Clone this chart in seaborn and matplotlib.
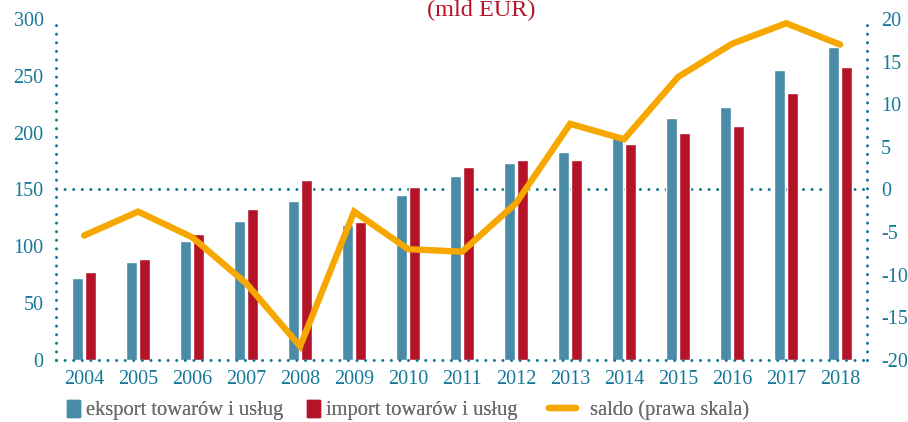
import pandas as pd
import matplotlib.pyplot as plt
import seaborn as sns

years = [str(y) for y in range(2004, 2019)]
eksport = [72, 86, 105, 122, 139.5, 118.5, 145.5, 162, 173.5, 183, 196, 213, 223, 255, 275]
imports = [77, 88.5, 110.5, 133, 158, 121, 152.5, 170, 175.5, 176, 190, 200, 206, 235, 258]
saldo = [-5.4, -2.6, -5.6, -11.0, -18.4, -2.6, -7.0, -7.3, -1.6, 7.7, 5.9, 13.2, 17.1, 19.5, 17.0]
series_names = ["eksport towarów i usług", "import towarów i usług", "saldo (prawa skala)"]

teal = "#17799a"
blue = "#4a8ca8"
red = "#b51428"
orange = "#f7a800"
grey = "#6b6b6b"

sns.set_style("white")
plt.rcParams["font.family"] = ["Liberation Serif", "DejaVu Serif"]
plt.rcParams["axes.unicode_minus"] = False

df = pd.DataFrame({
    "rok": years * 2,
    "wartosc": eksport + imports,
    "seria": [series_names[0]] * len(years) + [series_names[1]] * len(years),
})

fig = plt.figure(figsize=(9.08, 4.22), dpi=100)
ax = fig.add_axes([0.0617, 0.147, 0.8933, 0.808])

sns.barplot(data=df, x="rok", y="wartosc", hue="seria", palette=[blue, red],
            width=0.5, gap=0.2, ax=ax, legend=False, saturation=1)
ax.set_xlim(-0.52, 14.5)
ax.set_ylim(0, 300)
ax.set_yticks(range(0, 301, 50))
ax.set_xlabel("")
ax.set_ylabel("")

dots = (0, (0.01, 2.8))
for side in ["left", "bottom"]:
    ax.spines[side].set_linestyle(dots)
    ax.spines[side].set_capstyle("round")
    ax.spines[side].set_linewidth(2.2)
    ax.spines[side].set_color(teal)
for side in ["top", "right"]:
    ax.spines[side].set_visible(False)
ax.axhline(150, color=teal, lw=2.2, ls=dots, dash_capstyle="round", zorder=0.5)
ax.tick_params(length=0, labelsize=14.5, colors=teal, pad=9)
ax.tick_params(axis="x", pad=7)

ax2 = ax.twinx()
sns.lineplot(x=list(range(len(years))), y=saldo, color=orange, lw=4.6,
             ax=ax2, solid_capstyle="round", solid_joinstyle="miter")
ax2.set_ylim(-20, 20)
ax2.set_yticks(range(-20, 21, 5))
ax2.tick_params(length=0, labelsize=14.5, colors=teal, pad=10)
for side in ["left", "bottom", "top"]:
    ax2.spines[side].set_visible(False)
ax2.spines["right"].set_linestyle(dots)
ax2.spines["right"].set_capstyle("round")
ax2.spines["right"].set_linewidth(2.2)
ax2.spines["right"].set_color(teal)

fig.text(0.53, 1 - 16 / 422, "(mld EUR)", color=red, fontsize=17.5,
         ha="center", va="baseline")

# legend: three single-item legends so the spacing matches
items = [
    (plt.Rectangle((0, 0), 1, 1, color=blue), series_names[0], 67, 0.65, 0.25),
    (plt.Rectangle((0, 0), 1, 1, color=red), series_names[1], 307, 0.65, 0.25),
    (plt.Line2D([0], [0], color=orange, lw=4.6, solid_capstyle="round"), series_names[2], 549, 1.3, 0.7),
]
for handle, label, xpx, hl, pad in items:
    leg = fig.legend([handle], [label], loc="center left",
                     bbox_to_anchor=(xpx / 908, 12 / 422), frameon=False,
                     fontsize=14.8, handlelength=hl, handleheight=0.9,
                     handletextpad=pad, borderpad=0, borderaxespad=0)
    for t in leg.get_texts():
        t.set_color(grey)
    fig.add_artist(leg)

fig.savefig("out.png", dpi=100)
